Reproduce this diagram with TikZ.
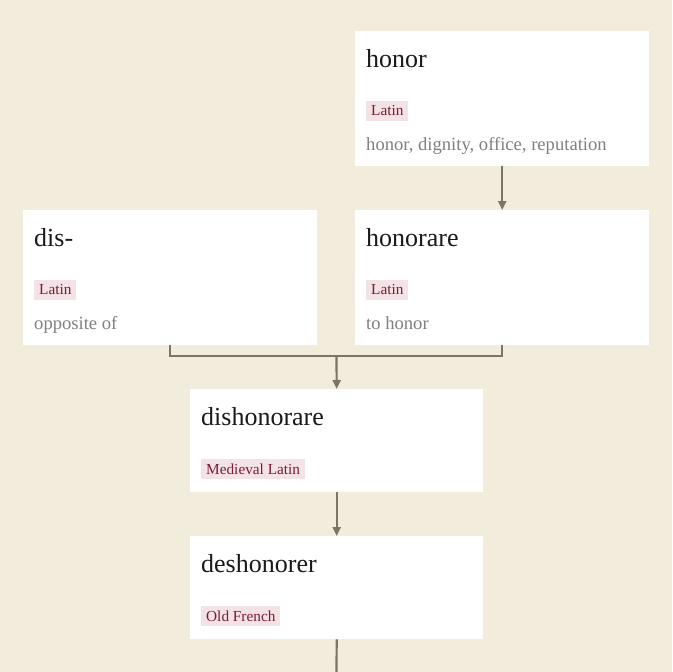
\documentclass[tikz,border=0pt]{standalone}
\usepackage{fontspec}
\setmainfont{Liberation Serif}
\usetikzlibrary{arrows.meta}
\definecolor{bg}{HTML}{F2ECDC}
\definecolor{titlec}{HTML}{1A1A1A}
\definecolor{tagc}{HTML}{7B1B34}
\definecolor{tagfill}{HTML}{F3E3E6}
\definecolor{glossc}{HTML}{808080}
\definecolor{linec}{HTML}{7C7563}
\begin{document}
\begin{tikzpicture}[x=1pt,y=-1pt,
  box/.style={fill=white,draw=none,inner sep=0pt,anchor=north west,minimum width=294pt},
  ttl/.style={anchor=base west,inner sep=0pt,text=titlec,font=\fontsize{26}{29}\selectfont},
  tag/.style={anchor=west,inner xsep=5pt,inner ysep=0pt,minimum height=20pt,fill=tagfill,text=tagc,font=\fontsize{15.3}{17}\selectfont},
  gloss/.style={anchor=base west,inner sep=0pt,text=glossc,font=\fontsize{18.6}{20}\selectfont},
  conn/.style={draw=linec,line width=2.2pt},
  arr/.style={conn,-{Triangle[width=8pt,length=9pt]}}]
\fill[bg] (0,0) rectangle (672,672);
\useasboundingbox (0,0) rectangle (672,672);
% boxes
\node[box,minimum height=135pt] (honor) at (355,31) {};
\node[box,minimum height=135pt] (dis) at (23,210) {};
\node[box,minimum height=135pt] (honorare) at (355,210) {};
\node[box,minimum width=293pt,minimum height=103pt] (dishon) at (190,389) {};
\node[box,minimum width=293pt,minimum height=103pt] (deshon) at (190,536) {};
% honor
\node[ttl] (honorT) at ([shift={(11pt,-36pt)}]honor.north west) {honor};
\node[tag] (honorL) at ([shift={(11pt,-80pt)}]honor.north west) {Latin};
\node[gloss] (honorG) at ([shift={(11pt,-119pt)}]honor.north west) {honor, dignity, office, reputation};
% dis-
\node[ttl] (disT) at ([shift={(11pt,-36pt)}]dis.north west) {dis-};
\node[tag] (disL) at ([shift={(11pt,-80pt)}]dis.north west) {Latin};
\node[gloss] (disG) at ([shift={(11pt,-119pt)}]dis.north west) {opposite of};
% honorare
\node[ttl] (honorareT) at ([shift={(11pt,-36pt)}]honorare.north west) {honorare};
\node[tag] (honorareL) at ([shift={(11pt,-80pt)}]honorare.north west) {Latin};
\node[gloss] (honorareG) at ([shift={(11pt,-119pt)}]honorare.north west) {to honor};
% dishonorare
\node[ttl] (dishonT) at ([shift={(11pt,-36pt)}]dishon.north west) {dishonorare};
\node[tag] (dishonL) at ([shift={(11pt,-80pt)}]dishon.north west) {Medieval Latin};
% deshonorer
\node[ttl] (deshonT) at ([shift={(11pt,-36pt)}]deshon.north west) {deshonorer};
\node[tag] (deshonL) at ([shift={(11pt,-80pt)}]deshon.north west) {Old French};
% connectors
\coordinate (m) at (336.5,356);
\coordinate (bot) at (336.5,672);
\draw[arr] (honor.south) -- (honorare.north);
\draw[conn] (dis.south) |- (m) -| (honorare.south);
\draw[arr] (m) -- (dishon.north);
\draw[arr] (dishon.south) -- (deshon.north);
\draw[conn] (deshon.south) -- (bot);
\end{tikzpicture}
\end{document}
